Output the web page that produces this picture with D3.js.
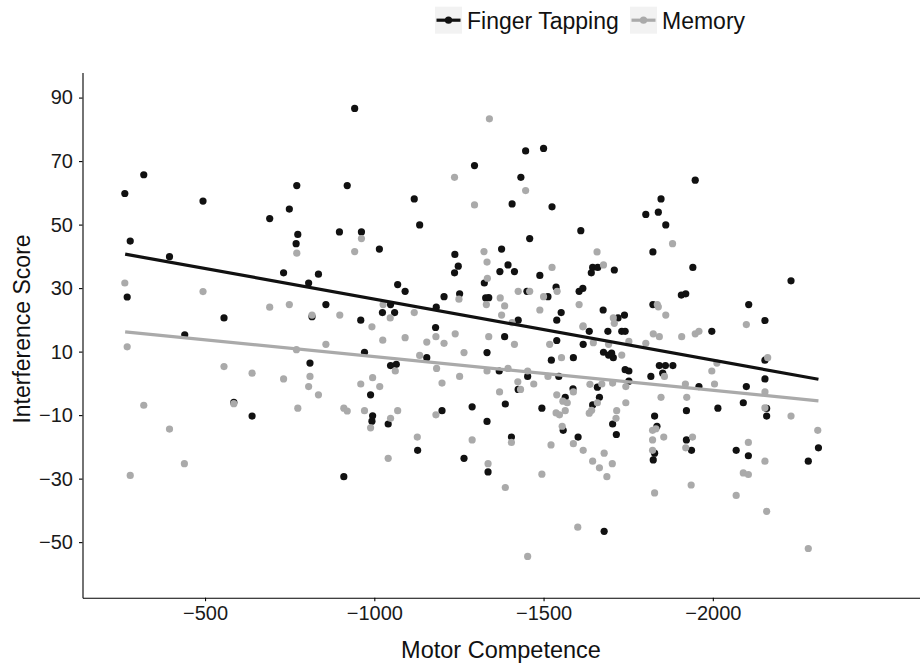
<!DOCTYPE html>
<html>
<head>
<meta charset="utf-8">
<script src="https://cdn.jsdelivr.net/npm/d3@7"></script>
<style>
  body { margin: 0; background: #fff; }
  svg { display: block; font-family: "Liberation Sans", Arial, Helvetica, sans-serif; }
</style>
</head>
<body>
<div id="chart"></div>
<script>
// series names and colours
const seriesNames = ["Finger Tapping", "Memory"];
const seriesColors = ["#111111", "#aaaaaa"];

// tick labels
const xTicks = [-500, -1000, -1500, -2000];
const yTicks = [90, 70, 50, 30, 10, -10, -30, -50];

// Finger Tapping points (motor competence, interference score)
const tappingX = [-942, -319, -263, -494, -771, -920, -749, -691, -774, -769, -897, -962, -279, -395, -732, -835, -806, -270, -857, -556,
  -816, -960, -440, -810, -585, -639, -910, -1296, -1447, -1500, -1433, -1118, -1407, -1525, -1134, -1610, -1459, -1015, -1376, -1238,
  -1248, -1237, -1395, -1371, -1414, -1489, -1325, -1069, -1091, -1252, -1206, -1329, -1338, -1451, -1513, -1537, -1605, -1616, -1048, -1024,
  -1060, -1183, -1181, -1425, -1539, -1552, -1385, -971, -1155, -1333, -1539, -1588, -1617, -1523, -1635, -1048, -1065, -1369, -1453, -1545,
  -989, -1425, -1587, -1564, -995, -993, -1041, -1200, -1289, -1387, -1495, -1333, -1405, -1558, -1602, -1128, -1265, -1336, -1948, -1847,
  -1839, -1802, -1861, -1823, -1941, -1645, -1660, -1641, -1709, -2231, -1907, -1920, -1823, -2106, -1676, -1720, -1739, -2154, -1690, -1731,
  -1741, -1997, -1677, -1692, -1706, -1701, -1842, -1860, -1882, -1741, -1752, -1817, -1852, -2154, -1752, -1659, -1959, -2099, -2154, -1665,
  -1645, -2090, -2015, -1922, -2159, -2159, -1828, -1704, -1715, -1835, -1922, -1937, -1828, -1824, -2069, -2105, -2312, -2282, -1679];
const tappingY = [86.6, 65.7, 59.8, 57.4, 62.3, 62.3, 54.9, 51.9, 46.9, 44, 47.7, 47.7, 44.8, 39.9, 34.8, 34.4, 31.6, 27.2, 24.8, 20.6,
  21, 19.9, 15.3, 6.4, -6, -10.3, -29.4, 68.6, 73.2, 74, 64.9, 58.1, 56.5, 55.6, 49.9, 48.1, 45.6, 42.3, 42.3, 40.6,
  36.9, 34.8, 37.3, 35.2, 35.2, 34, 31.6, 31.1, 29, 28.2, 27.3, 26.9, 27, 29, 27.3, 30.3, 29, 29.9, 24.8, 22.3,
  22.3, 24, 17.6, 19.9, 19.9, 22.3, 14.7, 9.8, 8.1, 9.7, 13.5, 8.1, 12.3, 7.3, 16.4, 5.6, 6, 3.9, 2.2, 2.2,
  -3.6, -1.9, -1.7, -4.4, -10.2, -11.9, -12.8, -8.6, -7.4, -6.5, -7.8, -12, -16.9, -14.8, -16.9, -21.1, -23.6, -27.9, 64, 58.1,
  53.9, 53.2, 49.9, 41.4, 36.5, 36.5, 36.5, 34.8, 35.7, 32.3, 27.8, 28.2, 24.8, 24.8, 23.1, 20.6, 21.5, 19.8, 16.4, 16.4,
  16.4, 16.4, 9.8, 8.9, 8.1, 9.5, 5.6, 5.6, 5.6, 4.3, 3.9, 2.2, 3.2, 7.3, 0.7, -1.2, -1, -1, 1.4, -4.4,
  -6.8, -6.1, -7.8, -8.6, -7.9, -10.3, -10.3, -12.8, -16.1, -13.5, -17.8, -21.1, -22, -24.1, -21.1, -22.8, -20.3, -24.5, -46.6];

// Memory points (motor competence, interference score)
const memoryX = [-771, -942, -962, -263, -494, -691, -749, -816, -898, -270, -556, -639, -732, -770, -857, -810, -806, -835, -319, -585,
  -774, -910, -920, -395, -439, -279, -1340, -1237, -1447, -1296, -1324, -1333, -1334, -1525, -1425, -1459, -1500, -1540, -1250, -1372,
  -1331, -1385, -1376, -1489, -1605, -1026, -1047, -1118, -993, -1407, -1616, -1025, -1091, -1155, -1182, -1206, -1239, -1338, -1414, -1518,
  -1553, -1617, -1265, -1134, -1062, -1184, -1333, -1395, -1453, -1513, -995, -960, -1016, -1200, -1252, -1424, -1432, -1471, -1370, -1539,
  -1557, -1570, -1588, -971, -1069, -1048, -989, -1182, -1537, -1547, -1564, -1127, -1289, -1405, -1555, -1522, -1588, -1617, -1041, -1336,
  -1495, -1387, -1601, -1453, -1881, -1658, -1677, -1836, -1839, -1861, -1706, -1709, -2099, -1647, -1692, -1752, -1802, -1824, -1842, -1908,
  -1948, -1959, -2162, -1731, -1997, -2012, -1857, -1637, -1672, -1704, -1743, -1919, -2005, -2154, -1847, -1923, -1743, -1659, -1642, -1635,
  -2154, -2231, -1716, -1714, -2310, -1822, -1832, -1855, -1822, -1940, -1822, -1920, -2105, -2154, -1645, -1665, -1679, -1703, -1687, -2090,
  -2105, -1828, -1936, -2069, -2159, -2282];
const memoryY = [41, 41.5, 45.6, 31.6, 28.9, 24, 24.8, 21.5, 21.5, 11.5, 5.3, 3.2, 1.4, 10.6, 12.3, 2.2, -1, -3.6, -6.9, -6.4,
  -7.8, -7.8, -8.7, -14.4, -25.3, -29, 83.3, 64.9, 60.7, 56.2, 41.5, 38.2, 33.1, 36.5, 29, 29, 27.3, 29, 26.5, 26.9,
  24.8, 24.4, 21.5, 23.1, 24.8, 24.8, 20.6, 22.3, 17.8, 19.1, 17.8, 13.6, 14.4, 13, 14.7, 12.6, 15.6, 14.7, 12.3, 12.3,
  8.1, 18.1, 9.7, 8.8, 3.9, 4.7, 3.9, 4.7, 3.9, 2.2, 1.8, -0.2, -1, 0.1, 2.2, 0.5, -1.9, -0.2, -2.7, -3.6,
  -5.6, -6.1, -2.7, -8.6, -8.6, -11, -14, -9.9, -9.3, -9.9, -8.6, -16.9, -17.8, -18.6, -13.5, -19.4, -19, -21.1, -23.6, -25.3,
  -28.6, -32.8, -45.3, -54.5, 44, 41.4, 37.3, 24.8, 24.1, 21.5, 20.6, 18.9, 18.5, 12.8, 12.3, 13.2, 12.6, 15.6, 14.7, 14.7,
  15.6, 16.4, 8.1, 8.9, 3.9, 6.4, 2.2, -0.3, -0.2, 0.1, -1, -0.2, -0.2, -2.7, -4.4, -4.4, -6.1, -6.1, -8.5, -9.4,
  -7.7, -10.3, -8.6, -11, -14.8, -14.8, -14.3, -16.9, -17.8, -16.9, -21.1, -20.3, -18.6, -24.5, -24.5, -26.6, -22, -25.3, -29.4, -28.2,
  -28.7, -34.5, -32, -35.3, -40.3, -52];

// fitted lines, ends
const fitX = [-264, -2312];
const tappingFit = [40.7, 1.3];
const memoryFit = [16.2, -5.5];

const width = 920, height = 663;
const margin = {left: 82.5, right: 0, top: 72.5, bottom: 65.3};

let svg = d3.select("#chart")
            .append("svg")
            .attr("width", width)
            .attr("height", height);

//define scale (x runs from less to more negative)
let xScale = d3.scaleLinear()
               .domain([-138, -2612])
               .range([margin.left, width - margin.right]);
let yScale = d3.scaleLinear()
               .domain([-67.5, 97.9])
               .range([height - margin.bottom, margin.top]);

//define axis (no thousands comma)
let xAxis = d3.axisBottom(xScale).tickValues(xTicks).tickFormat(d3.format("d"))
              .tickSize(3.5).tickSizeOuter(0).tickPadding(5);
let yAxis = d3.axisLeft(yScale).tickValues(yTicks).tickFormat(d3.format("d"))
              .tickSize(3.5).tickSizeOuter(0).tickPadding(6);

let series = [
  {name: seriesNames[0], color: seriesColors[0], xs: tappingX, ys: tappingY, fit: tappingFit},
  {name: seriesNames[1], color: seriesColors[1], xs: memoryX, ys: memoryY, fit: memoryFit}
];

//points
series.forEach(function(s){
  svg.append("g")
     .selectAll("circle")
     .data(s.xs.map(function(x, i){ return {x: x, y: s.ys[i]}; }))
     .enter()
     .append("circle")
     .attr("cx", function(d){ return xScale(d.x); })
     .attr("cy", function(d){ return yScale(d.y); })
     .attr("r", 3.6)
     .attr("fill", s.color);
});

//fit lines
let line = d3.line()
             .x(function(d){ return xScale(d[0]); })
             .y(function(d){ return yScale(d[1]); });
series.forEach(function(s){
  svg.append("path")
     .datum(fitX.map(function(x, i){ return [x, s.fit[i]]; }))
     .attr("d", line)
     .attr("fill", "none")
     .attr("stroke", s.color)
     .attr("stroke-width", 3.2);
});

//axes
let gx = svg.append("g")
   .attr("transform", "translate(0," + (height - margin.bottom) + ")")
   .call(xAxis);
let gy = svg.append("g")
   .attr("transform", "translate(" + margin.left + ",0)")
   .call(yAxis);
[gx, gy].forEach(function(g){
  g.select(".domain").attr("stroke", "#000").attr("stroke-width", 1.1);
  g.selectAll(".tick line").attr("stroke", "#000").attr("stroke-width", 1.1);
  g.selectAll(".tick text").attr("fill", "#1a1a1a").style("font-size", "20px").style("font-family", "Liberation Sans, Arial, sans-serif");
});

//axis titles
svg.append("text")
   .attr("x", 501)
   .attr("y", 658)
   .attr("text-anchor", "middle")
   .style("font-size", "23.5px")
   .attr("fill", "#111")
   .text("Motor Competence");
svg.append("text")
   .attr("transform", "translate(30,329) rotate(-90)")
   .attr("text-anchor", "middle")
   .style("font-size", "23px")
   .attr("fill", "#111")
   .text("Interference Score");

//legend
let keyX = [435, 630];
let legend = svg.append("g");
series.forEach(function(s, i){
  let g = legend.append("g").attr("transform", "translate(" + keyX[i] + ",6.7)");
  g.append("rect").attr("width", 27).attr("height", 27).attr("fill", "#f2f2f2");
  g.append("line").attr("x1", 1.5).attr("x2", 25.5).attr("y1", 13.5).attr("y2", 13.5)
   .attr("stroke", s.color).attr("stroke-width", 3.2);
  g.append("circle").attr("cx", 13.5).attr("cy", 13.5).attr("r", 3.6).attr("fill", s.color);
  g.append("text").attr("x", 32).attr("y", 22)
   .style("font-size", "23px").attr("fill", "#111")
   .text(s.name);
});
</script>
</body>
</html>
